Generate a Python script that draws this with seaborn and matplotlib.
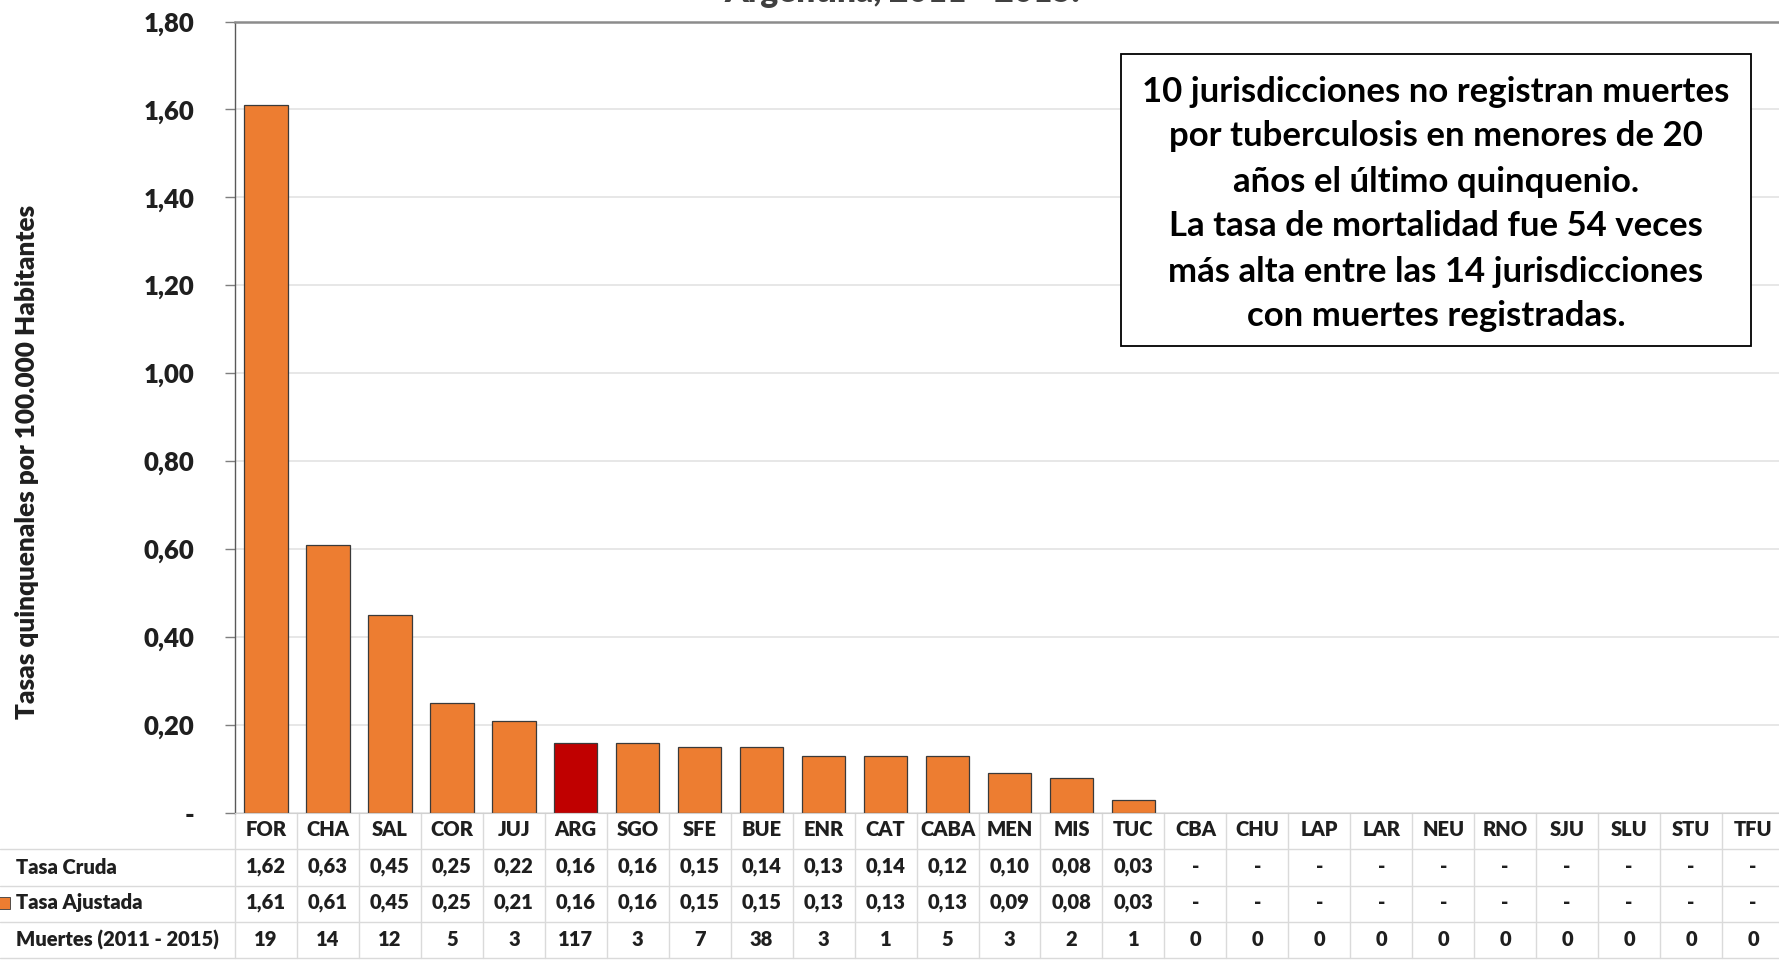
import pandas as pd
import matplotlib
matplotlib.use("Agg")
import matplotlib.pyplot as plt
import seaborn as sns
from matplotlib.patches import Rectangle
from matplotlib.transforms import blended_transform_factory

# datos
jurisdicciones = ["FOR", "CHA", "SAL", "COR", "JUJ", "ARG", "SGO", "SFE", "BUE", "ENR",
                  "CAT", "CABA", "MEN", "MIS", "TUC", "CBA", "CHU", "LAP", "LAR", "NEU",
                  "RNO", "SJU", "SLU", "STU", "TFU"]
tasa_cruda = [1.62, 0.63, 0.45, 0.25, 0.22, 0.16, 0.16, 0.15, 0.14, 0.13,
              0.14, 0.12, 0.10, 0.08, 0.03, None, None, None, None, None,
              None, None, None, None, None]
tasa_ajustada = [1.61, 0.61, 0.45, 0.25, 0.21, 0.16, 0.16, 0.15, 0.15, 0.13,
                 0.13, 0.13, 0.09, 0.08, 0.03, 0, 0, 0, 0, 0,
                 0, 0, 0, 0, 0]
muertes = [19, 14, 12, 5, 3, 117, 3, 7, 38, 3, 1, 5, 3, 2, 1, 0, 0, 0, 0, 0, 0, 0, 0, 0, 0]
y_ticks = [0, 0.2, 0.4, 0.6, 0.8, 1.0, 1.2, 1.4, 1.6, 1.8]
y_labels = ["-", "0,20", "0,40", "0,60", "0,80", "1,00", "1,20", "1,40", "1,60", "1,80"]

df = pd.DataFrame({"jur": jurisdicciones, "ajustada": tasa_ajustada})

NARANJA = "#ED7D31"
ROJO = "#C00000"
colores = {j: (ROJO if j == "ARG" else NARANJA) for j in jurisdicciones}

sns.set_style("white")
plt.rcParams["font.family"] = ["Lato", "DejaVu Sans"]
PESO = "heavy"
plt.rcParams["font.weight"] = PESO
TXT = "#1f1f1f"

W, H = 1779, 961
fig = plt.figure(figsize=(W / 100, H / 100), dpi=100)
x0, x1, y_base, y_top = 235, 1784, 813, 21.5
ax = fig.add_axes([x0 / W, (H - y_base) / H, (x1 - x0) / W, (y_base - y_top) / H])

sns.barplot(data=df, x="jur", y="ajustada", hue="jur", palette=colores, legend=False,
            order=jurisdicciones, width=0.7, saturation=1, edgecolor="#3a3a3a",
            linewidth=0.9, ax=ax)
for p in ax.patches:
    if p.get_height() == 0:
        p.set_linewidth(0)

ax.set_xlim(-0.5, len(jurisdicciones) - 0.5)
ax.set_ylim(0, 1.8)
ax.set_yticks(y_ticks)
ax.set_yticklabels(y_labels, fontsize=18.5, fontweight=PESO, color=TXT)
ax.tick_params(axis="y", length=7, width=1, color="#7f7f7f", pad=22, direction="out", left=True)
ax.set_xticks([])
ax.set_xlabel("")
ax.set_ylabel("")
ax.yaxis.grid(True, color="#E3E3E3", linewidth=1.2)
ax.set_axisbelow(True)
ax.spines["right"].set_visible(False)
ax.spines["top"].set_color("#8c8c8c")
ax.spines["top"].set_linewidth(1.8)
ax.spines["left"].set_color("#595959")
ax.spines["left"].set_linewidth(1)
ax.spines["bottom"].set_color("#d0d0d0")

fig.text(27 / W, 1 - 462 / H, "Tasas quinquenales por 100.000 Habitantes", rotation=90,
         ha="center", va="center", fontsize=18.8, fontweight=PESO, color=TXT)

# titulo recortado (solo se ve el borde inferior)
fig.text(902 / W, 1 - 2 / H, "Argentina, 2011 - 2015.", ha="center", va="baseline",
         fontsize=24, fontweight=PESO, color="#404040")

# recuadro de texto
nota = ("10 jurisdicciones no registran muertes\n"
        "por tuberculosis en menores de 20\n"
        "años el último quinquenio.\n"
        "La tasa de mortalidad fue 54 veces\n"
        "más alta entre las 14 jurisdicciones\n"
        "con muertes registradas.")
fig.patches.append(Rectangle((1121 / W, 1 - 346 / H), (1751 - 1121) / W, (346 - 54) / H,
                             transform=fig.transFigure, facecolor="white",
                             edgecolor="black", linewidth=1.3, zorder=5))
fig.text(1436 / W, 1 - 204 / H, nota, ha="center", va="center", fontsize=25,
         fontweight="bold", color="black", linespacing=1.5, zorder=6)

# tabla de datos
tr = blended_transform_factory(ax.transData, fig.transFigure)
def fy(px):
    return 1 - px / H

row_c = [829, 867, 903, 940]
row_lines = [849, 886, 922, 958]
txt_kw = dict(fontsize=14.5, fontweight=PESO, color=TXT, ha="center", va="center")
for i, j in enumerate(jurisdicciones):
    ax.text(i, fy(row_c[0]), j, transform=tr, clip_on=False, **txt_kw)
    c = tasa_cruda[i]
    ax.text(i, fy(row_c[1]), "-" if c is None else f"{c:.2f}".replace(".", ","),
            transform=tr, clip_on=False, **txt_kw)
    a = tasa_ajustada[i]
    ax.text(i, fy(row_c[2]), "-" if a == 0 else f"{a:.2f}".replace(".", ","),
            transform=tr, clip_on=False, **txt_kw)
    ax.text(i, fy(row_c[3]), str(muertes[i]), transform=tr, clip_on=False, **txt_kw)

for k in range(len(jurisdicciones) + 1):
    ax.plot([k - 0.5, k - 0.5], [fy(y_base), fy(row_lines[-1])], transform=tr,
            color="#dadada", linewidth=1, clip_on=False)
for yl in row_lines:
    fig.add_artist(plt.Line2D([0, 1], [fy(yl), fy(yl)], color="#dadada", linewidth=1))

etiquetas = ["Tasa Cruda", "Tasa Ajustada", "Muertes (2011 - 2015)"]
for yl, et in zip(row_c[1:], etiquetas):
    fig.text(16 / W, fy(yl), et, ha="left", va="center", fontsize=14.5,
             fontweight=PESO, color=TXT)
fig.patches.append(Rectangle((-2 / W, fy(909)), 12 / W, 12 / H, transform=fig.transFigure,
                             facecolor=NARANJA, edgecolor="#3a3a3a", linewidth=0.6))

fig.savefig("out.png", dpi=100)
